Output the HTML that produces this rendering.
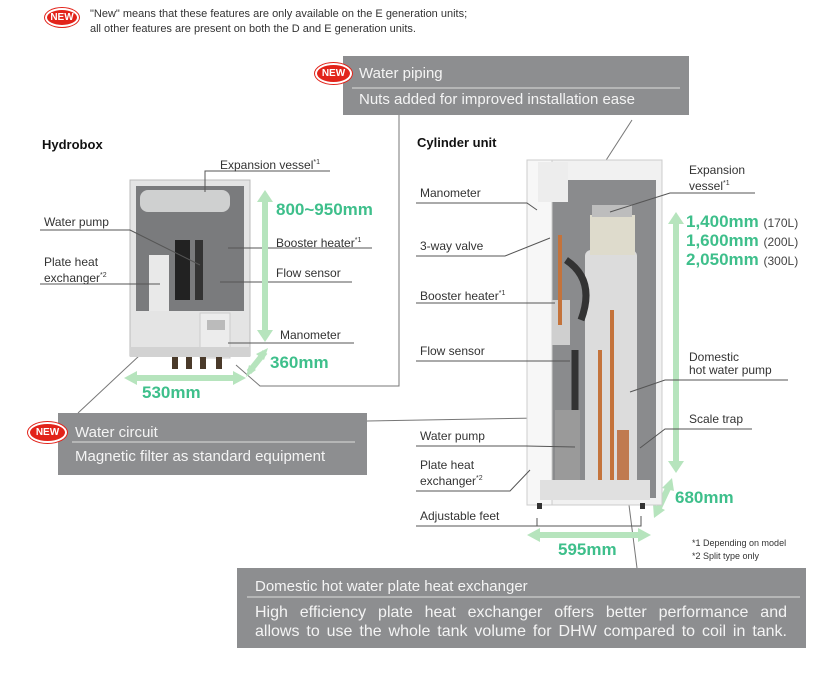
<!DOCTYPE html>
<html><head><meta charset="utf-8"><style>
body{margin:0;width:816px;height:683px;background:#fff;position:relative;overflow:hidden;font-family:"Liberation Sans",sans-serif;color:#333}
.t{position:absolute;white-space:nowrap;font-size:12px;line-height:13px;color:#333}
.g{position:absolute;white-space:nowrap;font-weight:bold;color:#3ebf8b;font-size:17px;line-height:18px}
.w{position:absolute;white-space:nowrap;color:#f4f4f4;font-size:15px;line-height:17px}
.new{position:absolute;background:#e2231a;color:#fff;font-weight:bold;font-size:10px;border-radius:50%;text-align:center;border:2px solid #fff;box-shadow:0 0 0 1px #e2231a}
sup{font-size:7px}
</style></head><body>
<svg width="816" height="683" style="position:absolute;left:0;top:0">
<rect x="343" y="56" width="346" height="59" fill="#8d8e90"/>
<line x1="352" y1="88" x2="680" y2="88" stroke="#ddd" stroke-width="1"/>
<rect x="58" y="413" width="309" height="62" fill="#8d8e90"/>
<line x1="72" y1="442" x2="355" y2="442" stroke="#ddd" stroke-width="1"/>
<rect x="237" y="568" width="569" height="80" fill="#8d8e90"/>
<line x1="247" y1="597" x2="800" y2="597" stroke="#ddd" stroke-width="1"/>
<polyline points="399,115 399,386 260,386 236,365" fill="none" stroke="#777" stroke-width="1"/>
<line x1="78" y1="413" x2="140" y2="355" stroke="#777"/>
<line x1="367" y1="421" x2="540" y2="418" stroke="#777"/>
<line x1="632" y1="120" x2="592" y2="182" stroke="#777"/>
<line x1="629" y1="505" x2="637" y2="568" stroke="#777"/>
<rect x="130" y="180" width="120" height="176" fill="#e4e4e4" stroke="#bbb"/>
<rect x="136" y="186" width="108" height="125" fill="#7a7b7d"/>
<rect x="140" y="190" width="90" height="22" rx="8" fill="#cfd0d0"/>
<rect x="149" y="255" width="20" height="56" fill="#e9e9e9"/>
<path d="M175 240 h15 v60 h-15z" fill="#222"/>
<rect x="195" y="240" width="8" height="60" fill="#333"/>
<rect x="200" y="313" width="30" height="45" fill="#ececec" stroke="#ccc"/>
<rect x="207" y="320" width="18" height="10" fill="#bbb"/>
<rect x="130" y="347" width="120" height="10" fill="#d2d2d2"/>
<rect x="172" y="357" width="6" height="12" fill="#4a3a2a"/><rect x="186" y="357" width="6" height="12" fill="#4a3a2a"/><rect x="200" y="357" width="6" height="12" fill="#4a3a2a"/><rect x="216" y="357" width="6" height="12" fill="#4a3a2a"/>
<g stroke="#555" fill="none" stroke-width="1">
<polyline points="330,171 205,171 205,192"/>
<polyline points="40,230 130,230 200,265"/>
<polyline points="40,284 160,284"/>
<polyline points="372,248 250,248 228,248"/>
<polyline points="352,282 220,282"/>
<polyline points="354,343 228,343"/>
</g>
<g fill="#b6e4bd" stroke="none">
<rect x="262" y="200" width="6" height="132"/><polygon points="265,190 257,202 273,202"/><polygon points="265,342 257,330 273,330"/>
<rect x="135" y="375" width="100" height="6"/><polygon points="124,378 137,371 137,385"/><polygon points="246,378 233,371 233,385"/>
<line x1="249" y1="372" x2="265" y2="352" stroke="#b6e4bd" stroke-width="6"/><polygon points="268,348 256,354 264,360"/><polygon points="246,377 249,365 256,370"/>
<rect x="673" y="222" width="6" height="240"/><polygon points="676,212 668,224 684,224"/><polygon points="676,473 668,461 684,461"/>
<rect x="538" y="532" width="102" height="6"/><polygon points="527,535 540,528 540,542"/><polygon points="651,535 638,528 638,542"/>
<line x1="657" y1="512" x2="670" y2="484" stroke="#b6e4bd" stroke-width="6"/><polygon points="672,478 662,488 674,491"/><polygon points="654,518 653,504 665,510"/>
</g>
<rect x="527" y="160" width="135" height="345" fill="#f1f1f1" stroke="#ccc"/>
<rect x="548" y="180" width="108" height="318" fill="#8a8b8d"/>
<rect x="585" y="250" width="52" height="245" rx="6" fill="#dcdcdc"/>
<rect x="590" y="215" width="45" height="40" fill="#dedbcc"/>
<rect x="592" y="205" width="40" height="12" fill="#bdbdbd"/>
<rect x="527" y="160" width="25" height="345" fill="#f7f7f7" stroke="#ccc"/>
<rect x="538" y="162" width="30" height="40" fill="#ededed"/>
<rect x="552" y="300" width="18" height="45" fill="#cfcfcf"/>
<path d="M566 260 q30 20 15 60 M575 350 v80" stroke="#333" stroke-width="7" fill="none"/>
<rect x="555" y="410" width="25" height="80" fill="#9a9a9a"/>
<path d="M600 350 v130 M612 310 v190 M560 235 v90" stroke="#c4733b" stroke-width="4" fill="none"/>
<rect x="617" y="430" width="12" height="65" fill="#c07a50"/>
<rect x="540" y="480" width="110" height="20" fill="#e0e0e0"/>
<rect x="537" y="503" width="5" height="6" fill="#333"/><rect x="640" y="503" width="5" height="6" fill="#333"/>
<g stroke="#555" fill="none" stroke-width="1">
<polyline points="416,203 527,203 537,210"/>
<polyline points="416,256 505,256 550,238"/>
<polyline points="416,303 530,303 555,303"/>
<polyline points="416,361 526,361 570,361"/>
<polyline points="416,446 526,446 575,447"/>
<polyline points="416,491 510,491 530,470"/>
<polyline points="416,526 641,526 641,516"/>
<line x1="537" y1="526" x2="537" y2="518"/>
<polyline points="755,193 670,193 610,212"/>
<polyline points="788,380 665,380 630,392"/>
<polyline points="752,429 665,429 640,448"/>
</g>
</svg>
<div class="new" style="left:45px;top:8px;width:30px;height:15px;line-height:15px">NEW</div>
<div class="t" style="left:90px;top:7px;font-size:11px;line-height:15px">"New" means that these features are only available on the E generation units;<br>all other features are present on both the D and E generation units.</div>
<div class="new" style="left:315px;top:63px;width:33px;height:17px;line-height:17px">NEW</div>
<div class="w" style="left:359px;top:65px">Water piping</div>
<div class="w" style="left:359px;top:91px">Nuts added for improved installation ease</div>
<div class="new" style="left:28px;top:422px;width:35px;height:17px;line-height:17px">NEW</div>
<div class="w" style="left:75px;top:424px">Water circuit</div>
<div class="w" style="left:75px;top:448px">Magnetic filter as standard equipment</div>
<div class="w" style="left:255px;top:578px">Domestic hot water plate heat exchanger</div>
<div class="w" style="left:255px;top:604px;width:532px;font-size:16px;text-align:justify;text-align-last:justify">High efficiency plate heat exchanger offers better performance and</div>
<div class="w" style="left:255px;top:623px;width:532px;font-size:16px;text-align:justify;text-align-last:justify">allows to use the whole tank volume for DHW compared to coil in tank.</div>
<div class="t" style="left:42px;top:138px;font-weight:bold;font-size:13px;color:#111">Hydrobox</div>
<div class="t" style="left:417px;top:136px;font-weight:bold;font-size:13px;color:#111">Cylinder unit</div>
<div class="t" style="left:220px;top:156px">Expansion vessel<sup>*1</sup></div>
<div class="t" style="left:44px;top:216px">Water pump</div>
<div class="t" style="left:44px;top:256px">Plate heat<br>exchanger<sup>*2</sup></div>
<div class="t" style="left:276px;top:234px">Booster heater<sup>*1</sup></div>
<div class="t" style="left:276px;top:267px">Flow sensor</div>
<div class="t" style="left:280px;top:329px">Manometer</div>
<div class="g" style="left:276px;top:201px">800~950mm</div>
<div class="g" style="left:270px;top:354px">360mm</div>
<div class="g" style="left:142px;top:384px">530mm</div>
<div class="t" style="left:420px;top:187px">Manometer</div>
<div class="t" style="left:420px;top:240px">3-way valve</div>
<div class="t" style="left:420px;top:287px">Booster heater<sup>*1</sup></div>
<div class="t" style="left:420px;top:345px">Flow sensor</div>
<div class="t" style="left:420px;top:430px">Water pump</div>
<div class="t" style="left:420px;top:459px">Plate heat<br>exchanger<sup>*2</sup></div>
<div class="t" style="left:420px;top:510px">Adjustable feet</div>
<div class="t" style="left:689px;top:164px">Expansion<br>vessel<sup>*1</sup></div>
<div class="t" style="left:689px;top:351px">Domestic<br>hot water pump</div>
<div class="t" style="left:689px;top:413px">Scale trap</div>
<div class="g" style="left:686px;top:213px;line-height:18px">1,400mm <span style="font-size:12px;font-weight:normal;color:#444">(170L)</span><br>1,600mm <span style="font-size:12px;font-weight:normal;color:#444">(200L)</span><br>2,050mm <span style="font-size:12px;font-weight:normal;color:#444">(300L)</span></div>
<div class="g" style="left:675px;top:489px">680mm</div>
<div class="g" style="left:558px;top:541px">595mm</div>
<div class="t" style="left:692px;top:537px;font-size:9px;line-height:13px">*1 Depending on model<br>*2 Split type only</div>
</body></html>
